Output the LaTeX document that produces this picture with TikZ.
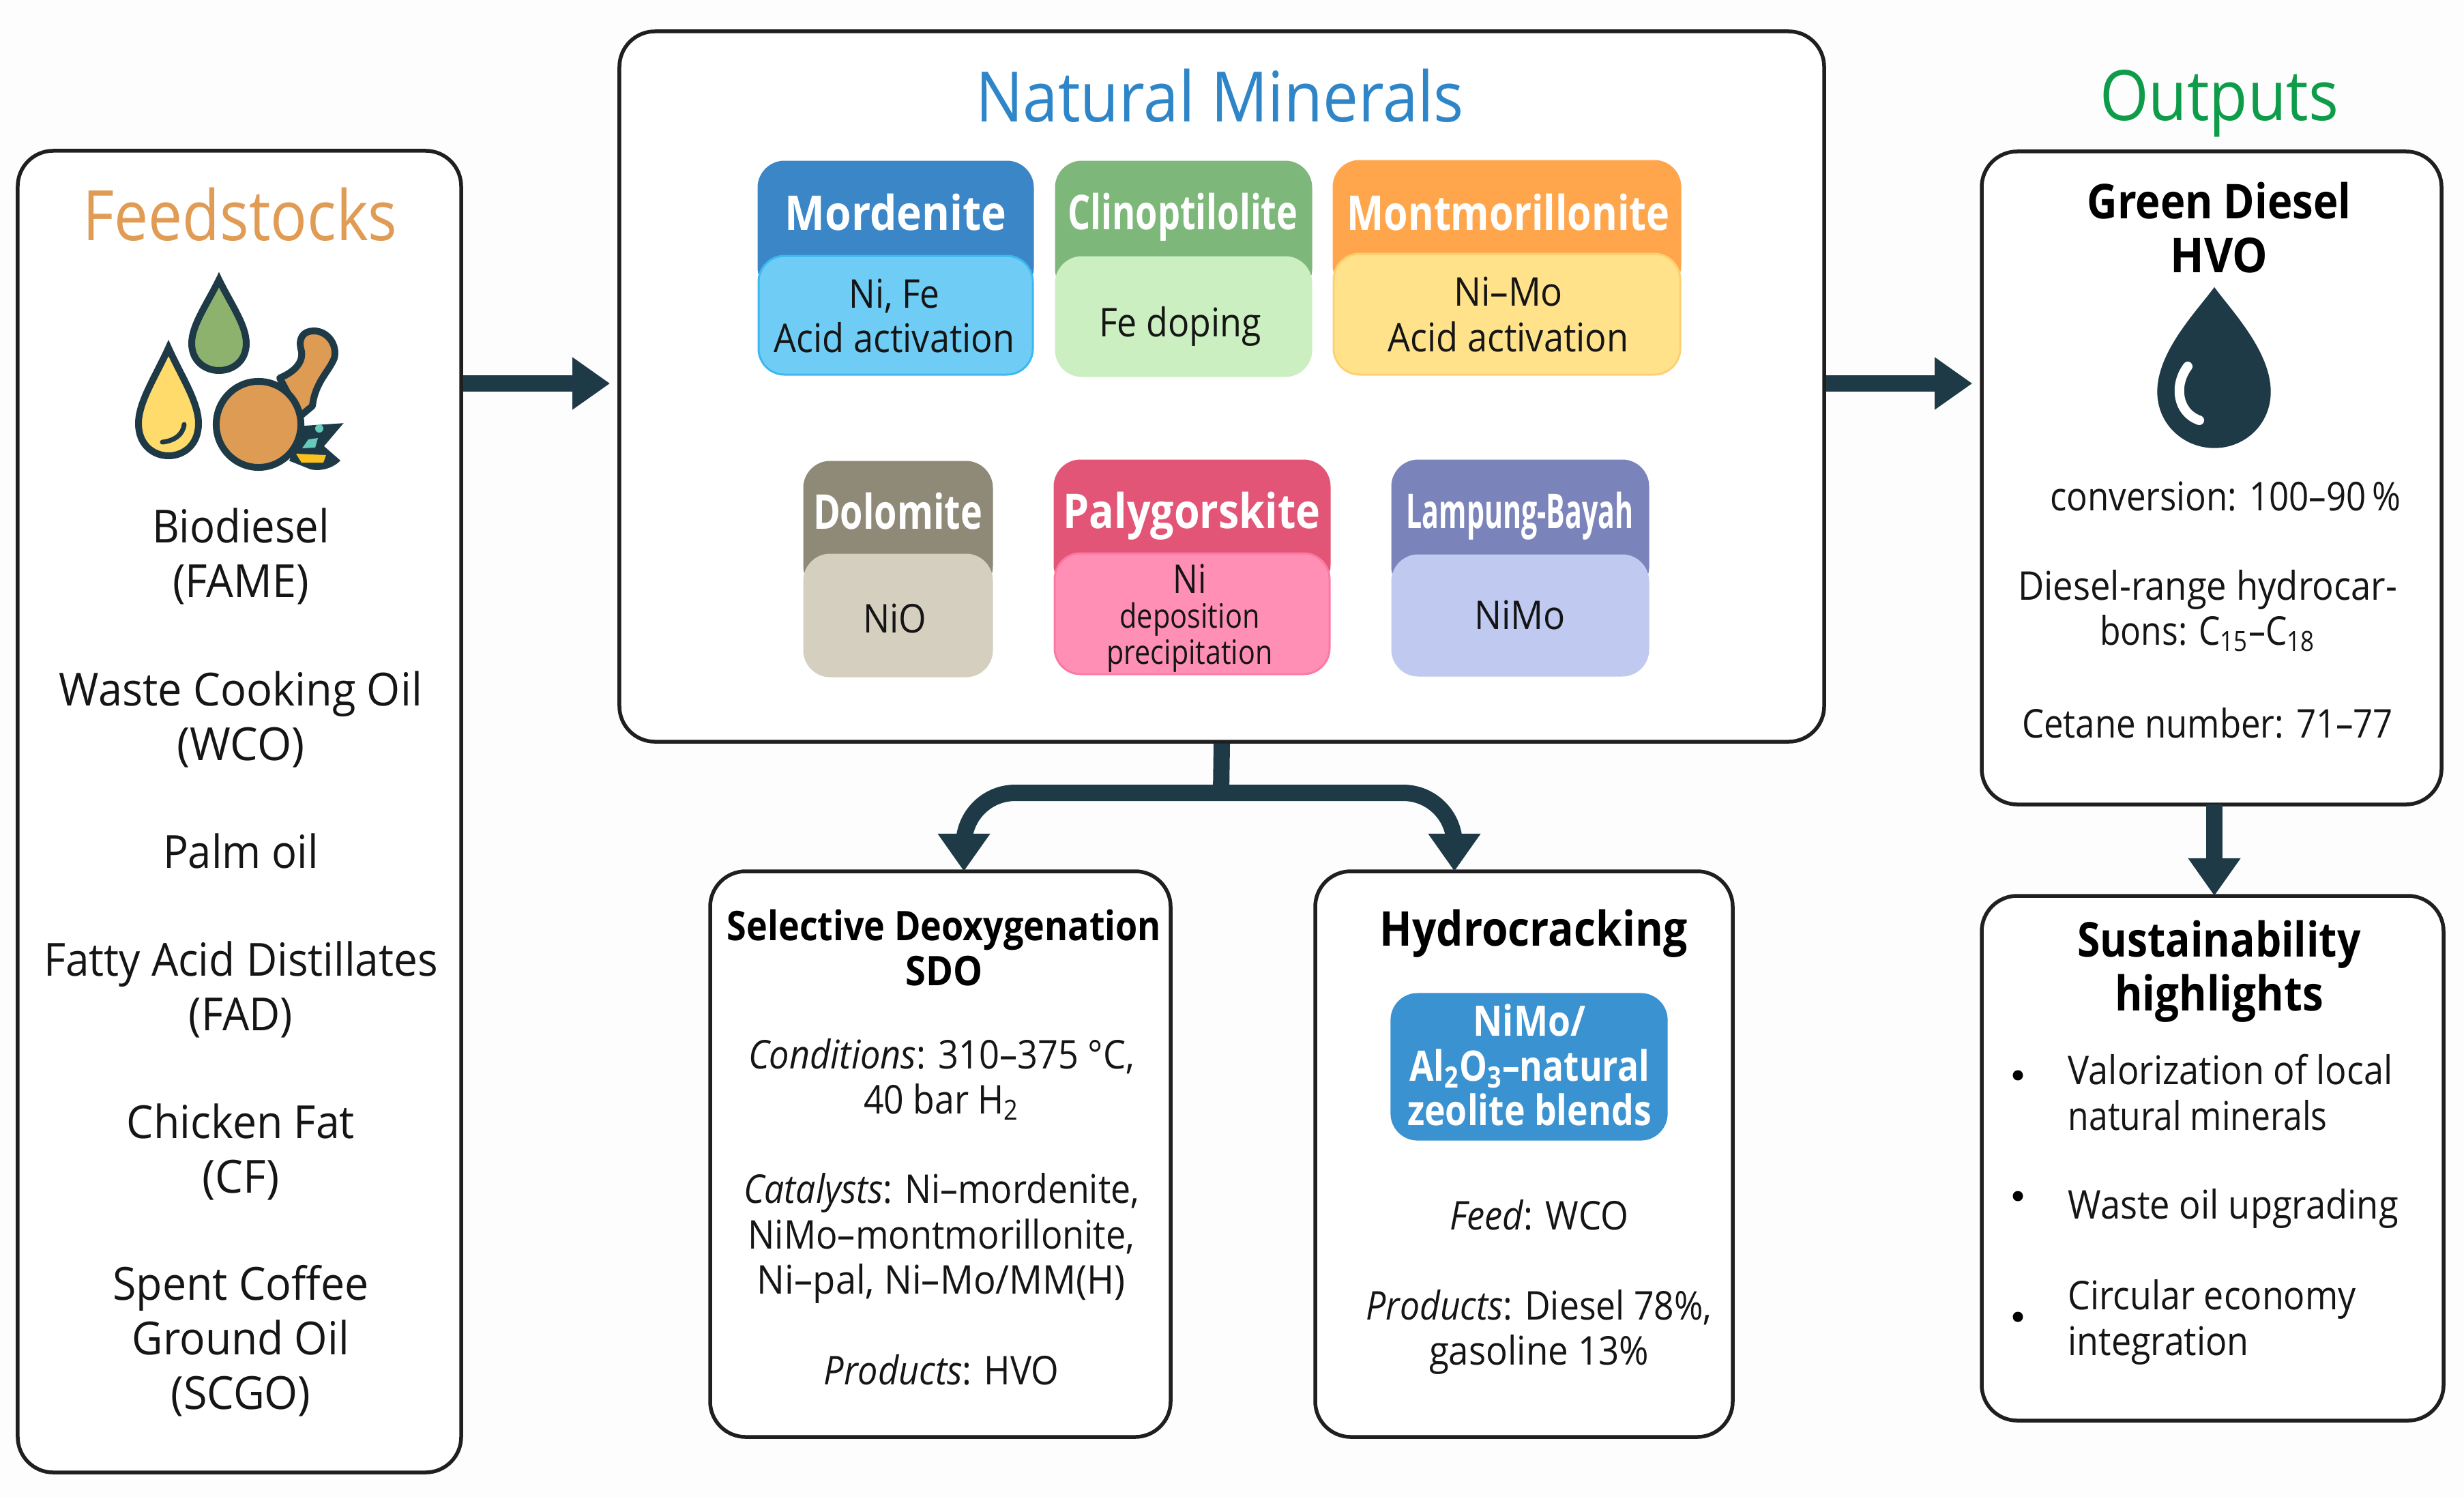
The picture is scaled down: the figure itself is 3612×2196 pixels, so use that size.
\documentclass[tikz,border=0pt]{standalone}
\usepackage{fontspec}
\usepackage{graphicx}
\usetikzlibrary{arrows.meta}
\setmainfont{Open Sans}
\definecolor{ink}{HTML}{1F3A47}
\definecolor{tx}{HTML}{151515}
\definecolor{pagebg}{HTML}{FDFDFD}
\definecolor{feedc}{HTML}{E09B55}
\definecolor{minc}{HTML}{2E86C8}
\definecolor{outc}{HTML}{0E9C4A}
\definecolor{mh}{HTML}{3A86C6}\definecolor{mb}{HTML}{6FCDF5}\definecolor{mo}{HTML}{3CB8F0}
\definecolor{ch}{HTML}{7DB87A}\definecolor{cb}{HTML}{CBEFC0}
\definecolor{oh}{HTML}{FFA64D}\definecolor{ob}{HTML}{FFE28A}\definecolor{oo}{HTML}{FFD070}
\definecolor{dh}{HTML}{8F8A78}\definecolor{db}{HTML}{D4CFBF}
\definecolor{ph}{HTML}{E25577}\definecolor{pb}{HTML}{FF8FB5}\definecolor{po}{HTML}{FA7AA5}
\definecolor{lh}{HTML}{7B83BB}\definecolor{lb}{HTML}{C0C9EF}
\definecolor{blu}{HTML}{3A92D1}
\definecolor{grn}{HTML}{8DB26E}
\definecolor{yel}{HTML}{FFDB6B}
\definecolor{chk}{HTML}{DE9B53}
\newdimen\pxu \pxu=.01cm
\newcommand\fw[2]{\resizebox{#1\pxu}{\height}{#2}}
\newcommand\panel[6][]{%
 \pgfmathsetmacro\wpx{(#5-#3)*.01}\pgfmathsetmacro\hpx{(#6-#4)*.01}%
 \node[panelbox,minimum width=\wpx cm,minimum height=\hpx cm,#1] (#2) at ({(#3+#5)/2},{(#4+#6)/2}) {};}
% name x1 x2 ytop ylight ybot headcolour bodycolour bordercolour
\newcommand\card[9]{%
 \pgfmathsetmacro\wpx{(#3-#2)*.01}\pgfmathsetmacro\hh{(#5+55-#4)*.01}\pgfmathsetmacro\bh{(#6-#5)*.01}%
 \node[cardbox,fill=#7,draw=#7,minimum width=\wpx cm,minimum height=\hh cm] (#1-h) at ({(#2+#3)/2},{(#4+#5+55)/2}) {};%
 \node[cardbox,fill=#8,draw=#9,minimum width=\wpx cm,minimum height=\bh cm] (#1-b) at ({(#2+#3)/2},{(#5+#6)/2}) {};}
\newcommand\dropshape[6]{% cx tip bot halfw fill line
 \filldraw[fill=#5,draw=#6,line width=.1cm,line join=miter,miter limit=3]
 ({#1},{#2}) .. controls ({#1+.42*#4},{#2+.26*(#3-#2)}) and ({#1+#4},{#2+.5*(#3-#2)}) .. ({#1+#4},{#2+.7*(#3-#2)})
 .. controls ({#1+#4},{#2+.9*(#3-#2)}) and ({#1+.5*#4},{#3}) .. ({#1},{#3})
 .. controls ({#1-.5*#4},{#3}) and ({#1-#4},{#2+.9*(#3-#2)}) .. ({#1-#4},{#2+.7*(#3-#2)})
 .. controls ({#1-#4},{#2+.5*(#3-#2)}) and ({#1-.42*#4},{#2+.26*(#3-#2)}) .. cycle;}
\tikzset{
 panelbox/.style={draw=black!88,line width=.055cm,fill=white,rounded corners=.52cm,inner sep=0pt},
 cardbox/.style={line width=.03cm,rounded corners=.38cm,inner sep=0pt},
 flow/.style={draw=ink,line width=.24cm,-{Triangle[length=.55cm,width=.73cm]}},
 body/.style={text=tx,align=center,inner sep=0pt,font=\fontsize{19}{22.8}\selectfont},
 smallb/.style={text=tx,align=center,inner sep=0pt,font=\fontsize{16.5}{18.8}\selectfont},
 leftb/.style={text=tx,align=left,inner sep=0pt,anchor=west,font=\fontsize{16.5}{18.8}\selectfont},
 hd/.style={text=white,align=center,inner sep=0pt,font=\bfseries\fontsize{20}{22}\selectfont},
 btitle/.style={text=black,align=center,inner sep=0pt,font=\bfseries\fontsize{20}{22.5}\selectfont},
 big/.style={align=center,inner sep=0pt,font=\fontsize{29}{34}\selectfont},
 bul/.style={circle,fill=black,inner sep=0pt,minimum size=.15cm},
}
\begin{document}
\begin{tikzpicture}[x=.01cm,y=-.01cm]
\useasboundingbox[fill=pagebg] (0,0) rectangle (3612,2196);
% panels
\panel{feed}{26}{221}{676}{2158}
\panel{mins}{908}{46}{2674}{1087}
\panel{gd}{2905}{222}{3579}{1179}
\panel{sus}{2905}{1313}{3582}{2082}
\panel{sdo}{1041}{1277}{1716}{2106}
\panel{hc}{1928}{1277}{2540}{2106}
% connectors
\coordinate (ay) at (0,562);
\coordinate (jn) at (1790,1162);
\coordinate (lt) at (1413,1277);
\coordinate (rt) at (2132,1277);
\coordinate (dn) at (3246,1179);
\coordinate (dnt) at (3246,1313);
\draw[flow,shorten >=.11cm] (feed.east |- ay) -- (mins.west |- ay);
\draw[flow,shorten >=.11cm] (mins.east |- ay) -- (gd.west |- ay);
\draw[flow] (dn) -- (dnt);
\draw[draw=ink,line width=.24cm] (mins.south) -- (jn);
\draw[flow,rounded corners=.75cm] (jn) -| (lt);
\draw[flow,rounded corners=.75cm] (jn) -| (rt);
% titles
\node[big,text=feedc] (tfeed) at (352,314) {\fw{461}{Feedstocks}};
\node[big,text=minc] (tmin) at (1788,140) {\fw{716}{Natural Minerals}};
\node[big,text=outc] (tout) at (3253,152) {\fw{350}{Outputs}};
% feedstock icon
\dropshape{321}{410}{543}{40}{grn}{ink}
\dropshape{247}{510}{668}{44}{yel}{ink}
\draw[ink,line width=.07cm,line cap=round] (270,622) .. controls (268,638) and (255,646) .. (238,648);
\filldraw[fill=chk,draw=ink,line width=.1cm,line join=round]
 (410,554) .. controls (425,548) and (445,535) .. (442,515)
 .. controls (436,495) and (445,485) .. (460,485)
 .. controls (480,485) and (495,505) .. (490,525)
 .. controls (482,545) and (462,560) .. (458,595) -- (440,610) -- cycle;
\filldraw[ink] (442,625) -- (502,621) -- (474,654) -- (498,675) .. controls (485,688) and (465,690) .. (455,687) -- (425,675) -- cycle;
\filldraw[fill=chk,draw=ink,line width=.1cm] (379,622) ellipse [x radius=.62cm,y radius=.63cm];
\fill[cyan!50!green!60] (468,628) circle [radius=.06cm];
\fill[cyan!50!green!60] (443,657) -- (452,644) -- (466,642) -- (462,656) -- cycle;
\fill[yellow!50!orange!90] (434,665) -- (478,667) -- (474,678) -- (442,678) -- cycle;
% feedstock list
\node[body] (f1) at (353,815) {\fw{260}{Biodiesel}\\\fw{200}{(FAME)}};
\node[body] (f2) at (353,1054) {\fw{532}{Waste Cooking Oil}\\\fw{187}{(WCO)}};
\node[body] (f3) at (353,1247) {\fw{228}{Palm oil}};
\node[body] (f4) at (353,1450) {\fw{578}{Fatty Acid Distillates}\\\fw{152}{(FAD)}};
\node[body] (f5) at (353,1688) {\fw{334}{Chicken Fat}\\\fw{113}{(CF)}};
\node[body] (f6) at (353,1965) {\fw{375}{Spent Coffee}\\\fw{318}{Ground Oil}\\\fw{205}{(SCGO)}};
% mineral cards
\card{mor}{1112}{1514}{237}{375}{549}{mh}{mb}{mo}
\card{cli}{1548}{1922}{237}{377}{551}{ch}{cb}{cb}
\card{mon}{1955}{2463}{236}{372}{549}{oh}{ob}{oo}
\card{dol}{1179}{1454}{677}{813}{991}{dh}{db}{db}
\card{pal}{1546}{1949}{675}{811}{988}{ph}{pb}{po}
\card{lam}{2041}{2416}{675}{814}{990}{lh}{lb}{lb}
\node[hd] (tmor) at (1313,311) {\fw{325}{Mordenite}};
\node[hd] (tcli) at (1734,318) {\fw{337}{Clinoptilolite}};
\node[hd] (tmon) at (2211,311) {\fw{473}{Montmorillonite}};
\node[hd] (tdol) at (1316,749) {\fw{248}{Dolomite}};
\node[hd] (tpal) at (1747,756) {\fw{377}{Palygorskite}};
\node[hd] (tlam) at (2228,756) {\fw{333}{Lampung-Bayah}};
\node[smallb,font=\fontsize{16.5}{18.4}\selectfont] (bmor) at (1311,463) {\fw{133}{Ni, Fe}\\\fw{353}{Acid activation}};
\node[smallb] (bcli) at (1730,478) {\fw{238}{Fe doping}};
\node[smallb] (bmon) at (2211,461) {\fw{160}{Ni–Mo}\\\fw{353}{Acid activation}};
\node[smallb] (bdol) at (1312,906) {\fw{93}{NiO}};
\node[smallb] (bpal) at (1744,848) {\fw{49}{Ni}};
\node[smallb,font=\fontsize{14}{15}\selectfont] (bpal2) at (1744,934) {\fw{205}{deposition}\\\fw{243}{precipitation}};
\node[smallb] (blam) at (2228,901) {\fw{134}{NiMo}};
% Green diesel
\node[btitle] (tgd) at (3253,334) {\fw{387}{Green Diesel}\\\fw{143}{HVO}};
\filldraw[ink] (3246,422) .. controls (3270,455) and (3328,515) .. (3328,574)
 .. controls (3328,622) and (3290,656) .. (3246,656)
 .. controls (3202,656) and (3163,622) .. (3163,574)
 .. controls (3163,515) and (3222,455) .. cycle;
\draw[white,line width=.14cm,line cap=round] (3207,537) .. controls (3186,565) and (3192,605) .. (3224,616);
\node[smallb] (g1) at (3262,728) {\fw{514}{conversion: 100–90\,\%}};
\node[smallb] (g2) at (3236,895) {\fw{556}{Diesel-range hydrocar-}\\\fw{316}{bons: C\textsubscript{15}–C\textsubscript{18}}};
\node[smallb] (g3) at (3236,1060) {\fw{544}{Cetane number: 71–77}};
% Sustainability
\node[btitle] (tsus) at (3253,1424) {\fw{415}{Sustainability}\\\fw{306}{highlights}};
\node[bul] (b1) at (2958,1576) {};
\node[bul] (b2) at (2958,1753) {};
\node[bul] (b3) at (2958,1930) {};
\node[leftb,font=\fontsize{16.5}{18.9}\selectfont] (s1) at (3031,1601) {\fw{476}{Valorization of local}\\\fw{380}{natural minerals}};
\node[leftb] (s2) at (3031,1771) {\fw{484}{Waste oil upgrading}};
\node[leftb,font=\fontsize{16.5}{18.9}\selectfont] (s3) at (3031,1938) {\fw{422}{Circular economy}\\\fw{265}{integration}};
% SDO
\node[btitle,font=\bfseries\fontsize{17}{18.8}\selectfont] (tsdo) at (1384,1389) {\fw{636}{Selective Deoxygenation}\\\fw{113}{SDO}};
\node[smallb] (d1) at (1380,1582) {\fw{566}{\textit{Conditions}: 310–375 °C,}\\\fw{228}{40 bar H\textsubscript{2}}};
\node[smallb] (d2) at (1380,1815) {\fw{580}{\textit{Catalysts}: Ni–mordenite,}\\\fw{567}{NiMo–montmorillonite,}\\\fw{540}{Ni–pal, Ni–Mo/MM(H)}};
\node[smallb] (d3) at (1380,2008) {\fw{345}{\textit{Products}: HVO}};
% Hydrocracking
\node[btitle] (thc) at (2248,1368) {\fw{451}{Hydrocracking}};
\node[cardbox,fill=blu,draw=blu,minimum width=4.03cm,minimum height=2.13cm] (cat) at (2241.5,1563.5) {};
\node[hd,font=\bfseries\fontsize{17.5}{18.6}\selectfont] (tcat) at (2242,1561) {\fw{165}{NiMo/}\\\fw{352}{Al\textsubscript{2}O\textsubscript{3}–natural}\\\fw{358}{zeolite blends}};
\node[smallb] (h1) at (2256,1781) {\fw{262}{\textit{Feed}: WCO}};
\node[smallb] (h2) at (2256,1952) {\fw{507}{\textit{Products}: Diesel 78\%,}\\\fw{322}{gasoline 13\%}};
\end{tikzpicture}
\end{document}
